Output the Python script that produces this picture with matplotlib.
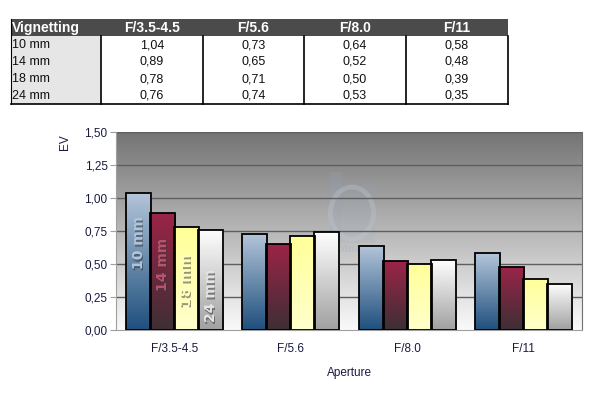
import numpy as np
import matplotlib
matplotlib.use("Agg")
import matplotlib.pyplot as plt
from matplotlib.transforms import offset_copy
from matplotlib.colors import LinearSegmentedColormap
from matplotlib.patches import Rectangle, Ellipse

plt.rcParams['font.family'] = ['Liberation Sans', 'DejaVu Sans']

apertures = ["F/3.5-4.5", "F/5.6", "F/8.0", "F/11"]
focal_lengths = ["10 mm", "14 mm", "18 mm", "24 mm"]
v10 = [1.04, 0.73, 0.64, 0.58]
v14 = [0.89, 0.65, 0.52, 0.48]
v18 = [0.78, 0.71, 0.50, 0.39]
v24 = [0.76, 0.74, 0.53, 0.35]
series = [v10, v14, v18, v24]
yticks = [0.0, 0.25, 0.5, 0.75, 1.0, 1.25, 1.5]

# gradient colours (top, bottom) for each series
grads = [("#b4c6da", "#1f4f7d"), ("#9c2448", "#3d2f35"),
         ("#ffff99", "#ffffcc"), ("#ffffff", "#a0a0a0")]
label_colors = ["#b0c6de", "#b5566f", "#ffffc0", "#e4e4e4"]
label_y = [0.66, 0.50, 0.38, 0.26]

W, H = 596, 398
fig = plt.figure(figsize=(W / 100, H / 100), dpi=100)

# ---------- table ----------
tax = fig.add_axes([0, 0, 1, 1])
tax.set_xlim(0, W)
tax.set_ylim(H, 0)
tax.axis("off")
col_x = [11, 101, 203, 304, 406, 508]
hdr_top, hdr_bot = 19, 36
row_h = 17
tax.add_patch(Rectangle((col_x[0], hdr_top), col_x[-1] - col_x[0], hdr_bot - hdr_top,
                        facecolor="#4b4b4b", edgecolor="none"))
tax.text(col_x[0] + 1, (hdr_top + hdr_bot) / 2 + 0.5, "Vignetting", color="white",
         fontweight="bold", fontsize=10, ha="left", va="center")
for j, ap in enumerate(apertures):
    tax.text((col_x[j + 1] + col_x[j + 2]) / 2, (hdr_top + hdr_bot) / 2 + 0.5, ap,
             color="white", fontweight="bold", fontsize=10, ha="center", va="center")
nrows = len(focal_lengths)
tax.add_patch(Rectangle((col_x[0], hdr_bot), col_x[1] - col_x[0], nrows * row_h,
                        facecolor="#e6e6e6", edgecolor="none"))
for i, fl in enumerate(focal_lengths):
    yc = hdr_bot + (i + 0.5) * row_h + 0.5
    tax.text(col_x[0] + 1, yc, fl, color="#101010", fontsize=9, ha="left", va="center")
    for j in range(len(apertures)):
        tax.text((col_x[j + 1] + col_x[j + 2]) / 2, yc, f"{series[i][j]:.2f}".replace(".", ","),
                 color="#101010", fontsize=9, ha="center", va="center")
bot = hdr_bot + nrows * row_h
for xx in col_x[1:]:
    tax.plot([xx, xx], [hdr_bot, bot], color="black", lw=1.2)
tax.plot([col_x[0], col_x[-1]], [bot, bot], color="black", lw=1.2)
tax.plot([col_x[0], col_x[0]], [hdr_top, bot], color="black", lw=0.8)

# ---------- chart ----------
L, R, T, B = 116, 582, 132, 330
ax = fig.add_axes([L / W, (H - B) / H, (R - L) / W, (B - T) / H])
ax.set_xlim(-0.5, len(apertures) - 0.5)
ax.set_ylim(0, 1.5)

bg = LinearSegmentedColormap.from_list("bg", ["#fafafa", "#747474"])
grad = np.linspace(0, 1, 256).reshape(-1, 1)
ax.imshow(grad, cmap=bg, origin="lower", aspect="auto",
          extent=(-0.5, len(apertures) - 0.5, 0, 1.5), zorder=0)

# faint watermark
ax.add_patch(Rectangle((1.337, 0.659), 0.103, 0.538, facecolor="#8ea6c4", alpha=0.22,
                       edgecolor="none", zorder=1))
ax.add_patch(Rectangle((1.449, 0.659), 0.274, 0.455, facecolor="#8ea6c4", alpha=0.12,
                       edgecolor="none", zorder=1))
ax.add_patch(Ellipse((1.526, 0.886), 0.369, 0.394, facecolor="none",
                     edgecolor="#c8cdd2", lw=3.5, alpha=0.3, zorder=1))
ax.text(1.53, 0.614, "photozone", fontsize=8, fontweight="bold",
        color="#9fb3cc", alpha=0.4, ha="center", va="center", zorder=1)

for y in yticks[1:]:
    ax.axhline(y, color="#5e5e5e", lw=1.0, zorder=1)

x = np.arange(len(apertures))
step = 24 / 116.5
n = len(series)
shadow_tr = offset_copy(ax.transData, fig=fig, x=1.5, y=-1.5, units="dots")
for k, vals in enumerate(series):
    offs = x + (k - (n - 1) / 2) * step
    bars = ax.bar(offs, vals, width=step * 1.05, facecolor="none",
                  edgecolor="black", lw=1.3, zorder=3)
    cmap = LinearSegmentedColormap.from_list(f"g{k}", [grads[k][1], grads[k][0]])
    for b in bars:
        bx, bw, bh = b.get_x(), b.get_width(), b.get_height()
        im = ax.imshow(grad, cmap=cmap, origin="lower", aspect="auto",
                       extent=(bx, bx + bw, 0, bh), zorder=2)
        im.set_clip_path(b)
    ax.text(offs[0] + 0.005, label_y[k], focal_lengths[k], rotation=90,
            ha="center", va="center", fontsize=10, fontweight="bold",
            family="DejaVu Sans", color="#303030", alpha=0.5, zorder=4,
            transform=shadow_tr)
    ax.text(offs[0] + 0.005, label_y[k], focal_lengths[k], rotation=90,
            ha="center", va="center", fontsize=10, fontweight="bold",
            family="DejaVu Sans", color=label_colors[k], zorder=5)

ax.set_xticks(x)
ax.set_xticklabels(apertures, fontsize=8.5, color="#1a1a40")
ax.tick_params(axis="x", length=0, pad=9)
ax.set_yticks(yticks)
ax.set_yticklabels([f"{t:.2f}".replace(".", ",") for t in yticks], fontsize=8.5, color="#1a1a40")
ax.tick_params(axis="y", length=4, color="#a0a0a0", pad=2)
ax.spines["top"].set_visible(False)
ax.spines["left"].set_color("#a0a0a0")
ax.spines["bottom"].set_color("#a0a0a0")
ax.spines["right"].set_color("#707070")

ax.set_xlabel("Aperture", fontsize=8.5, color="#1a1a40", labelpad=9)
fig.text(65 / W, 1 - 142 / H, "EV", rotation=90, fontsize=8.5, color="#1a1a40",
         ha="center", va="center")

fig.savefig("out.png", dpi=100)
